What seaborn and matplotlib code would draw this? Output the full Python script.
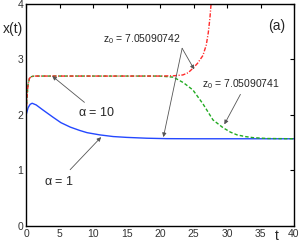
import matplotlib
matplotlib.use("Agg")
import matplotlib.pyplot as plt
import seaborn as sns
import pandas as pd

# alpha = 1 (blue, solid)
t_a1 = [0, 0.3, 0.6, 0.9, 1.5, 2.5, 4.0, 5.2, 6.6, 8.0, 9.1, 11.0, 13.0, 15.0, 18.0, 21.0, 25.0, 30.0, 35.0, 40.0]
x_a1 = [2.0, 2.13, 2.19, 2.21, 2.18, 2.09, 1.96, 1.86, 1.78, 1.72, 1.68, 1.64, 1.61, 1.595, 1.58, 1.572, 1.57, 1.57, 1.57, 1.57]

# alpha = 10, z0 = 7.05090742 (red, dash-dot)
t_red = [0, 0.15, 0.3, 0.5, 0.8, 1.2, 5, 10, 15, 20, 22, 23.4, 24.2, 24.9, 25.6, 26.4, 26.9, 27.2, 27.45, 27.65]
x_red = [2.0, 2.35, 2.55, 2.66, 2.69, 2.70, 2.70, 2.70, 2.70, 2.70, 2.705, 2.72, 2.76, 2.84, 2.93, 3.07, 3.26, 3.48, 3.75, 4.05]

# alpha = 10, z0 = 7.05090741 (green, dashed)
t_grn = [0, 0.15, 0.3, 0.5, 0.8, 1.2, 5, 10, 15, 20, 22.0, 23.5, 24.9, 26.4, 27.9, 29.4, 30.5, 31.5, 32.7, 33.9, 36.0, 40.0]
x_grn = [2.0, 2.35, 2.55, 2.66, 2.69, 2.70, 2.70, 2.70, 2.70, 2.70, 2.68, 2.58, 2.45, 2.20, 1.91, 1.77, 1.69, 1.64, 1.61, 1.59, 1.575, 1.57]

sns.set_style("white")
plt.rcParams['font.family'] = ['Liberation Sans', 'DejaVu Sans']
plt.rcParams['mathtext.fontset'] = 'custom'
plt.rcParams['mathtext.rm'] = 'Liberation Sans'
plt.rcParams['mathtext.it'] = 'Liberation Sans'

fig = plt.figure(figsize=(3.0, 2.45), dpi=100)
ax = fig.add_axes([0.087, 0.078, 0.893, 0.906])

df_a1 = pd.DataFrame({'t': t_a1, 'x': x_a1})
df_grn = pd.DataFrame({'t': t_grn, 'x': x_grn})
df_red = pd.DataFrame({'t': t_red, 'x': x_red})

sns.lineplot(data=df_a1, x='t', y='x', ax=ax, color='#2448ff', lw=1.0, sort=False)
sns.lineplot(data=df_grn, x='t', y='x', ax=ax, color='#22aa22', lw=1.0, sort=False,
             linestyle=(0, (2.5, 1.5)))
sns.lineplot(data=df_red, x='t', y='x', ax=ax, color='#ff2a2a', lw=1.0, sort=False,
             linestyle=(0, (3, 1.2, 0.8, 1.2)))

ax.set_xlim(0, 40)
ax.set_ylim(0, 4)
ax.set_xticks(range(0, 41, 5))
ax.set_yticks(range(0, 5))
ax.tick_params(direction='in', length=3, width=0.8, labelsize=7.5,
               top=True, right=True, pad=2, colors='black', labelcolor='#333333')
for s in ax.spines.values():
    s.set_linewidth(1.0)
    s.set_color('black')
ax.set_xlabel('')
ax.set_ylabel('')

fig.text(0.043, 0.88, 'x(t)', fontsize=10, ha='center', va='center')
fig.text(0.923, 0.035, 't', fontsize=10, ha='center', va='center')
ax.text(0.935, 0.9, '(a)', transform=ax.transAxes, fontsize=10, ha='center', va='center')

arr = dict(arrowstyle='-|>', color='#555555', lw=0.6, mutation_scale=6)
ax.annotate(r'$\alpha$ = 10', xy=(3.9, 2.7), xytext=(10.5, 2.05), fontsize=9,
            ha='center', va='center', arrowprops=dict(arr, shrinkA=0, shrinkB=0),)
ax.annotate(r'$\alpha$ = 1', xy=(11.2, 1.6), xytext=(4.9, 0.8), fontsize=9,
            ha='center', va='center', arrowprops=dict(arr, shrinkB=0))
ax.text(17.3, 3.37, r'z$_0$ = 7.05090742', fontsize=7.5, ha='center', va='center')
ax.annotate('', xy=(25.1, 2.82), xytext=(23.3, 3.2), arrowprops=dict(arr, shrinkA=0, shrinkB=0))
ax.annotate('', xy=(20.5, 1.6), xytext=(23.3, 3.2), arrowprops=dict(arr, shrinkA=0, shrinkB=0))
ax.text(32.1, 2.55, r'z$_0$ = 7.05090741', fontsize=7.5, ha='center', va='center')
ax.annotate('', xy=(29.6, 1.83), xytext=(32.0, 2.37), arrowprops=dict(arr, shrinkA=0, shrinkB=0))

fig.savefig('out.png', dpi=100)
